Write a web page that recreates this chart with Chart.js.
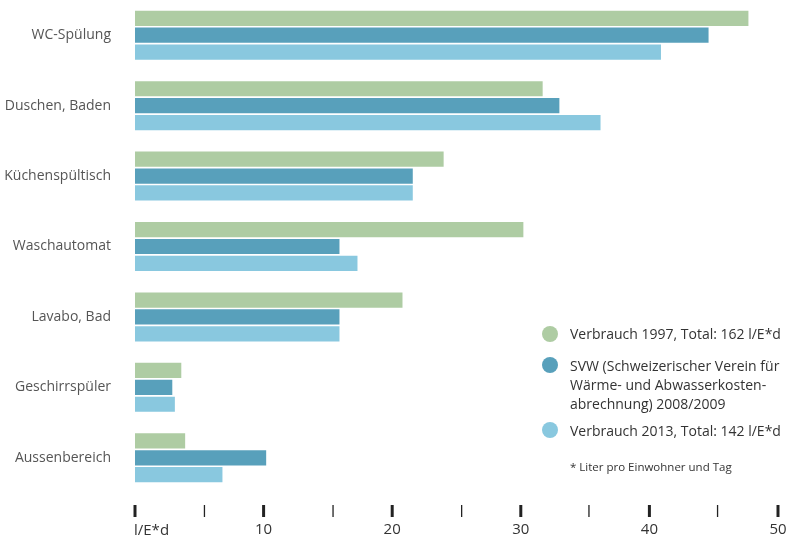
<!DOCTYPE html>
<html>
<head>
<meta charset="utf-8">
<script src="https://cdn.jsdelivr.net/npm/chart.js@4"></script>
<style>
    body { margin: 0; background: #fff; font-family: "Open Sans", sans-serif; }
    #wrap { position: relative; width: 789px; height: 544px; }
    #chart { display: block; }
    #legend { position: absolute; left: 542px; top: 324px; color: #333; font-size: 14px; line-height: 19px; }
    .item { position: relative; padding-left: 28px; }
    .dot { position: absolute; left: 0; top: 1.5px; width: 16px; height: 16px; border-radius: 50%; }
    #note { padding-left: 28px; font-size: 11.5px; margin-top: 17px; }
</style>
</head>
<body>
<div id="wrap">
    <canvas id="chart" width="789" height="544"></canvas>
    <div id="legend"></div>
</div>
<script>
const categories = ["WC-Spülung", "Duschen, Baden", "Küchenspültisch", "Waschautomat", "Lavabo, Bad", "Geschirrspüler", "Aussenbereich"];
const serie1997 = [47.7, 31.7, 24.0, 30.2, 20.8, 3.6, 3.9];
const serieSVW = [44.6, 33.0, 21.6, 15.9, 15.9, 2.9, 10.2];
const serie2013 = [40.9, 36.2, 21.6, 17.3, 15.9, 3.1, 6.8];
const seriesLabels = [
    "Verbrauch 1997, Total: 162 l/E*d",
    "SVW (Schweizerischer Verein für<br>Wärme- und Abwasserkosten-<br>abrechnung) 2008/2009",
    "Verbrauch 2013, Total: 142 l/E*d"
];
const majorTicks = [0, 10, 20, 30, 40, 50];
const minorTicks = [5.4, 15.4, 25.4, 35.3, 45.3];
const colors = ["#aecca3", "#58a0bb", "#89c8df"];

document.addEventListener("DOMContentLoaded", () => {
    const legend = document.getElementById("legend");
    const gaps = [12.5, 8, 0];
    seriesLabels.forEach((txt, i) => {
        legend.innerHTML += `<div class="item" style="margin-bottom:${gaps[i]}px"><span class="dot" style="background:${colors[i]}"></span>${txt}</div>`;
    });
    legend.innerHTML += `<div id="note">* Liter pro Einwohner und Tag</div>`;

    // tick marks sit below the plot with a small gap
    const tickMarks = {
        id: "tickMarks",
        afterDraw(chart) {
            const ctx = chart.ctx;
            const x = chart.scales.x;
            const y0 = chart.chartArea.bottom + 12;
            ctx.save();
            ctx.strokeStyle = "#222";
            x.ticks.forEach(t => {
                const px = x.getPixelForValue(t.value);
                ctx.lineWidth = majorTicks.includes(t.value) ? 3 : 1.3;
                ctx.beginPath();
                ctx.moveTo(px, y0);
                ctx.lineTo(px, y0 + 12);
                ctx.stroke();
            });
            ctx.fillStyle = "#333";
            ctx.font = "15px 'Open Sans'";
            ctx.textAlign = "left";
            ctx.textBaseline = "middle";
            ctx.fillText("l/E*d", x.getPixelForValue(0) - 1, chart.chartArea.bottom + 38);
            ctx.restore();
        }
    };

    new Chart(document.getElementById("chart"), {
        type: "bar",
        data: {
            labels: categories,
            datasets: [serie1997, serieSVW, serie2013].map((d, i) => ({
                label: seriesLabels[i],
                data: d,
                backgroundColor: colors[i],
                categoryPercentage: 0.72,
                barPercentage: 0.9
            }))
        },
        options: {
            indexAxis: "y",
            responsive: false,
            animation: false,
            layout: { padding: { top: 0, right: 11, left: 0, bottom: 0 } },
            plugins: { legend: { display: false }, tooltip: { enabled: false } },
            scales: {
                x: {
                    min: 0,
                    max: 50,
                    afterBuildTicks: s => {
                        s.ticks = [...majorTicks, ...minorTicks].sort((a, b) => a - b).map(v => ({ value: v }));
                    },
                    afterFit: s => {
                        s.height = 51;
                        s.paddingLeft = 0;
                        s.paddingRight = 0;
                    },
                    grid: { display: false, drawTicks: false },
                    border: { display: false },
                    ticks: {
                        autoSkip: false,
                        maxRotation: 0,
                        padding: 28,
                        color: "#333",
                        font: { family: "Open Sans", size: 15 },
                        callback: v => (majorTicks.includes(v) && v !== 0 ? v : "")
                    }
                },
                y: {
                    afterFit: s => {
                        s.width = 135;
                        s.paddingTop = 0;
                        s.paddingBottom = 0;
                    },
                    grid: { display: false, drawTicks: false },
                    border: { display: false },
                    ticks: {
                        padding: 24,
                        color: "#555",
                        font: { family: "Open Sans", size: 14 }
                    }
                }
            }
        },
        plugins: [tickMarks]
    });
});
</script>
</body>
</html>
